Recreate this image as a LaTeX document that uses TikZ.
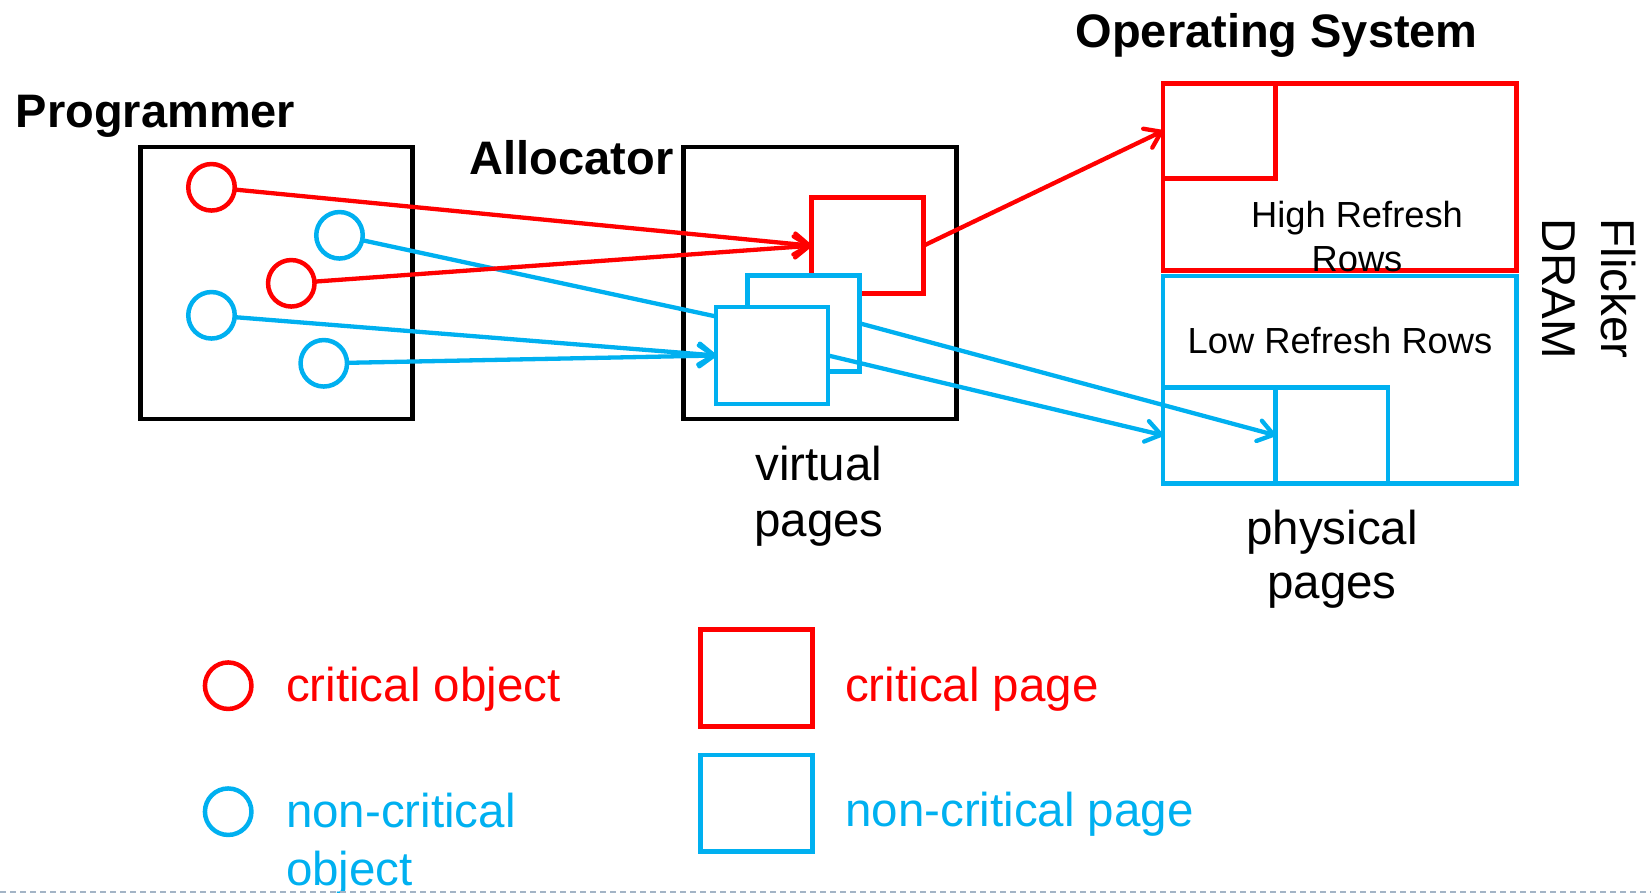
\documentclass[tikz,border=0pt]{standalone}
\usepackage{fontspec}
\setmainfont{Liberation Sans}
\usetikzlibrary{arrows.meta}
\definecolor{crit}{HTML}{FF0000}
\definecolor{noncrit}{HTML}{00B0F0}
\definecolor{rulecol}{HTML}{A3B4C6}

\tikzset{
  box/.style={draw, line width=4.5pt, inner sep=0pt, outer sep=0pt, anchor=north west},
  pg/.style={box, fill=white, minimum width=112pt, minimum height=96pt},
  obj/.style={circle, draw, line width=4.5pt, inner sep=0pt, outer sep=0pt, minimum size=46.5pt},
  link/.style={line width=4.3pt, -{Straight Barb[length=15pt,width=21pt,round]}},
  title/.style={inner sep=0pt, font=\fontsize{47}{56}\selectfont\bfseries},
  lbl/.style={inner sep=0pt, font=\fontsize{47.5}{56}\selectfont},
  small/.style={inner sep=0pt, font=\fontsize{36.3}{44}\selectfont},
}

\begin{document}
\begin{tikzpicture}[x=1pt,y=-1pt]
\useasboundingbox (0,0) rectangle (1651,893);

% titles
\node[title, anchor=base west] (tprog) at (15.6,127.7) {Programmer};
\node[title, anchor=base west] (talloc) at (469.6,175) {Allocator};
\node[title, anchor=base] (tos) at (1276.7,47.4) {Operating System};

% programmer and allocator frames
\node[box, minimum width=272pt, minimum height=272pt] (prog) at (140.3,147.2) {};
\node[box, minimum width=272.6pt, minimum height=272pt] (alloc) at (683.7,147.2) {};

% objects
\node[obj, draw=crit] (r1) at (211.5,187.3) {};
\node[obj, draw=noncrit] (b1) at (339.5,235.3) {};
\node[obj, draw=crit] (r2) at (291.3,283.3) {};
\node[obj, draw=noncrit] (b2) at (211.5,315.3) {};
\node[obj, draw=noncrit] (b3) at (323.8,363.3) {};

% virtual pages
\node[pg, draw=crit] (vr) at (811.5,197.7) {};
\node[pg, draw=noncrit] (vb) at (747.6,275.3) {};
\draw[link, noncrit] (b1) -- (vb.west);
\node[pg, draw=noncrit, minimum height=97pt] (vf) at (716.2,307) {};

% Flicker DRAM rows and physical pages
\node[box, draw=crit, minimum width=353.2pt, minimum height=187.4pt] (high) at (1163.2,83.3) {};
\node[box, draw=crit, minimum width=112.5pt, minimum height=95pt] (pr) at (1163.2,83.3) {};
\node[box, draw=noncrit, minimum width=353.2pt, minimum height=207.3pt] (low) at (1163.2,276) {};
\node[box, draw=noncrit, minimum width=112.5pt, minimum height=96pt] (p1) at (1163.2,387.3) {};
\node[box, draw=noncrit, minimum width=112.3pt, minimum height=96pt] (p2) at (1275.7,387.3) {};

% mappings
\draw[link, crit] (r1) -- (vr.west);
\draw[link, crit] (r2) -- (vr.west);
\draw[link, noncrit] (b2) -- (vf.west);
\draw[link, noncrit] (b3) -- (vf.west);
\draw[link, crit] (vr.east) -- (pr.west);
\draw[link, noncrit] (vb.east) -- (p2.west);
\draw[link, noncrit] (vf.east) -- (p1.west);

% labels
\node[small, align=center, anchor=north] (thigh) at (1357,200.7) {High Refresh\\Rows};
\node[small, anchor=base] (tlow) at (1340,353.3) {Low Refresh Rows};
\node[lbl, align=center, anchor=north, rotate=-90,
      font=\fontsize{47.5}{59}\selectfont] (tdram) at (1636,288.8) {Flicker\\DRAM};
\node[lbl, align=center, anchor=north] (tvirt) at (819,445.6) {virtual\\pages};
\node[lbl, align=center, anchor=north,
      font=\fontsize{47.5}{54}\selectfont] (tphys) at (1332,509.6) {physical\\pages};

% legend
\node[obj, draw=crit] (lr) at (228.2,685.7) {};
\node[obj, draw=noncrit] (lb) at (228.2,811.7) {};
\node[lbl, crit, anchor=base west] (tlr) at (285.8,701.7) {critical object};
\node[lbl, noncrit, align=left, anchor=north west,
      font=\fontsize{47.5}{58}\selectfont] (tlb) at (285.8,792.7) {non-critical\\object};
\node[box, draw=crit, minimum width=112pt, minimum height=97.4pt] (lpr) at (700.4,629.3) {};
\node[box, draw=noncrit, minimum width=112pt, minimum height=96.7pt] (lpb) at (700.4,755) {};
\node[lbl, crit, anchor=base west] (tlpr) at (845,701.7) {critical page};
\node[lbl, noncrit, anchor=base west] (tlpb) at (845,826.7) {non-critical page};

% footer rule
\draw[rulecol, line width=2pt, dash pattern=on 6pt off 4pt] (0,891.5) -- (1651,891.5);
\end{tikzpicture}
\end{document}
